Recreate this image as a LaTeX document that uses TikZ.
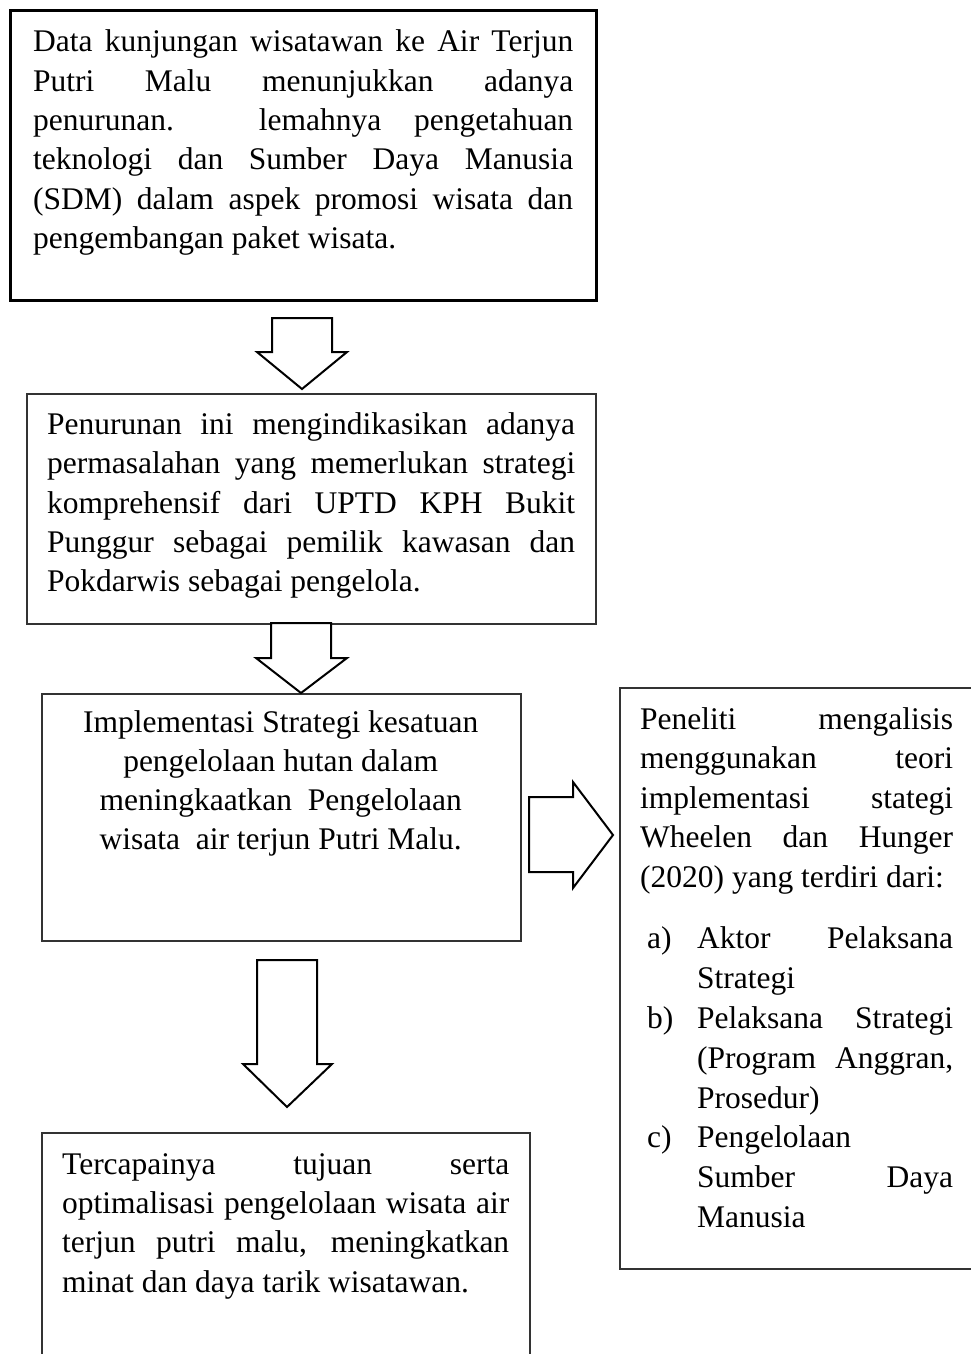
\documentclass[tikz,border=0pt]{standalone}
\usepackage{fontspec}
\setmainfont{Liberation Serif}
\newcommand\boxfont{\fontsize{31.5}{39.3}\selectfont\hyphenpenalty=10000\exhyphenpenalty=10000\tolerance=10000\hbadness=10000}
\begin{document}
\begin{tikzpicture}[x=1pt,y=-1pt,
  thickbox/.style={draw=black,line width=2.6pt,inner sep=0pt,anchor=north west},
  thinbox/.style={draw=black!80,line width=1.5pt,inner sep=0pt,anchor=north west},
  blockarrow/.style={draw=black,line width=2pt,fill=white,line join=miter},
  txt/.style={inner sep=0pt,anchor=base west}]
\useasboundingbox (0,0) rectangle (971,1354);
\clip (0,0) rectangle (971,1354);
\fill[white] (0,0) rectangle (971,1354);

% boxes
\node[thickbox,minimum width=586pt,minimum height=290pt] (b1) at (9,9) {};
\node[thinbox,minimum width=569pt,minimum height=230pt] (b2) at (26,393) {};
\node[thinbox,minimum width=479pt,minimum height=247pt] (b3) at (41,693) {};
\node[thinbox,minimum width=380pt,minimum height=581pt] (b4) at (619,687) {};
\node[thinbox,minimum width=488pt,minimum height=260pt] (b5) at (41,1132) {};

% texts
\node[txt] (t1) at (33,52) {\begin{minipage}[t]{540pt}\boxfont
Data kunjungan wisatawan ke Air Terjun\linebreak
Putri Malu menunjukkan adanya\linebreak
penurunan. lemahnya pengetahuan\linebreak
teknologi dan Sumber Daya Manusia\linebreak
(SDM) dalam aspek promosi wisata dan\linebreak
pengembangan paket wisata.\end{minipage}};

\node[txt] (t2) at (47,434.5) {\begin{minipage}[t]{528pt}\boxfont
Penurunan ini mengindikasikan adanya\linebreak
permasalahan yang memerlukan strategi\linebreak
komprehensif dari UPTD KPH Bukit\linebreak
Punggur sebagai pemilik kawasan dan\linebreak
Pokdarwis sebagai pengelola.\end{minipage}};

\node[txt] (t3) at (41,732) {\begin{minipage}[t]{479pt}\boxfont\centering
Implementasi Strategi kesatuan\\
pengelolaan hutan dalam\\
meningkaatkan\ \ Pengelolaan\\
wisata\ \ air terjun Putri Malu.\par\end{minipage}};

\node[txt] (t4) at (640,729) {\begin{minipage}[t]{313pt}\boxfont
\baselineskip=39.5pt
Peneliti mengalisis\linebreak
menggunakan teori\linebreak
implementasi stategi\linebreak
Wheelen dan Hunger\linebreak
(2020) yang terdiri dari:\par
\vspace{22pt}
\baselineskip=39.8pt
\leftskip=57pt
\noindent\llap{\makebox[50pt][l]{a)}}Aktor Pelaksana\linebreak Strategi\par
\noindent\llap{\makebox[50pt][l]{b)}}Pelaksana Strategi\linebreak (Program Anggran,\linebreak Prosedur)\par
\noindent\llap{\makebox[50pt][l]{c)}}Pengelolaan\newline Sumber Daya\linebreak Manusia\par
\end{minipage}};

\node[txt] (t5) at (62,1174.2) {\begin{minipage}[t]{447pt}\boxfont
Tercapainya tujuan serta\linebreak
optimalisasi pengelolaan wisata air\linebreak
terjun putri malu, meningkatkan\linebreak
minat dan daya tarik wisatawan.\end{minipage}};

% block arrows
\draw[blockarrow] (272,318) -- (332,318) -- (332,352) -- (347,352) -- (302,389) -- (257,352) -- (272,352) -- cycle;
\draw[blockarrow] (271,623) -- (331,623) -- (331,658) -- (347,658) -- (301,693) -- (256,658) -- (271,658) -- cycle;
\draw[blockarrow] (529,797) -- (573,797) -- (573,782) -- (613,835) -- (573,888) -- (573,872) -- (529,872) -- cycle;
\draw[blockarrow] (257,960) -- (317,960) -- (317,1064) -- (332,1064) -- (287,1107) -- (243,1064) -- (257,1064) -- cycle;
\end{tikzpicture}
\end{document}
